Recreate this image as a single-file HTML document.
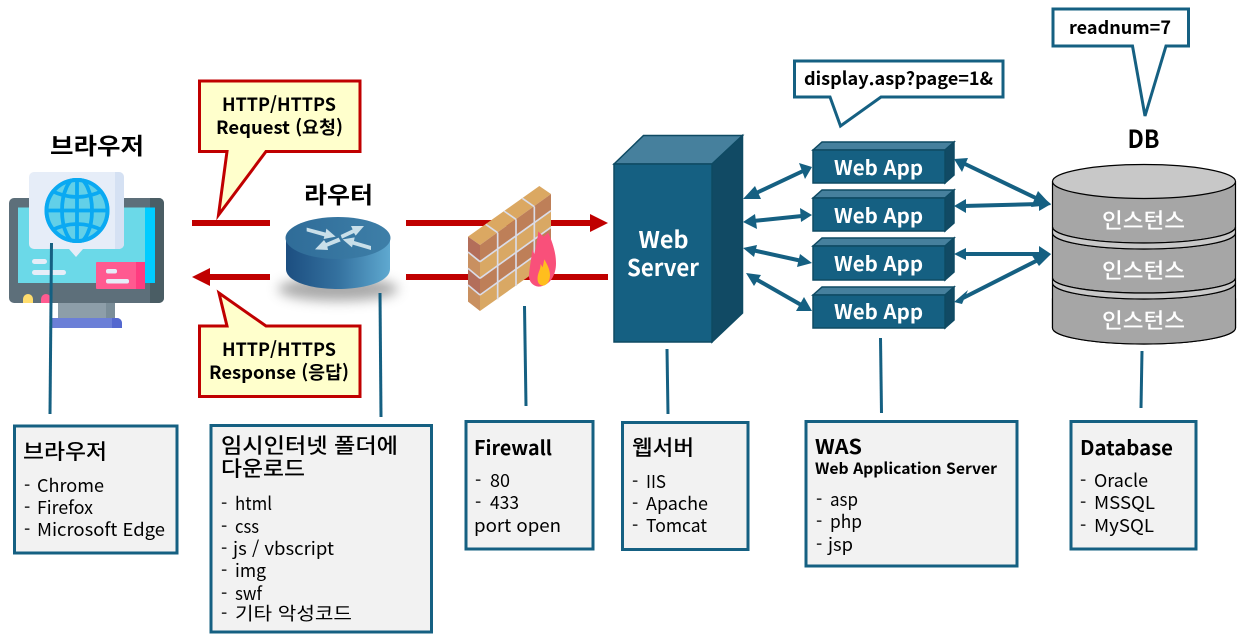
<!DOCTYPE html>
<html lang="ko"><head><meta charset="utf-8"><title>Web architecture</title>
<style>
html,body{margin:0;padding:0;background:#fff;width:1249px;height:642px;overflow:hidden}
svg{display:block}
text{font-family:"Noto Sans CJK KR","Liberation Sans",sans-serif;fill:#000}
.b{font-weight:700}
.m{font-weight:500}
.w{fill:#fff}
.t{font-size:18px;font-weight:400}
</style></head><body>
<svg width="1249" height="642" viewBox="0 0 1249 642" xmlns="http://www.w3.org/2000/svg">
<defs>
<linearGradient id="rs" x1="0" x2="1" y1="0" y2="0"><stop offset="0" stop-color="#1C4E80"/><stop offset=".5" stop-color="#34719F"/><stop offset="1" stop-color="#5FA9D0"/></linearGradient>
<linearGradient id="rt" x1="0" x2="1" y1="0" y2="0"><stop offset="0" stop-color="#2F6C98"/><stop offset="1" stop-color="#3E7FA8"/></linearGradient>
<filter id="bl" x="-30%" y="-80%" width="160%" height="260%"><feGaussianBlur stdDeviation="6"/></filter>
<clipPath id="gc"><circle cx="77" cy="210.500" r="32.500"/></clipPath>
</defs>

<!-- red lines -->
<g fill="#C00000">
<rect x="192" y="220" width="78" height="6"/>
<rect x="406" y="220" width="186" height="6"/>
<polygon points="590,214 608,223 590,232"/>
<rect x="208" y="274" width="62" height="6"/>
<polygon points="210,268 192,277 210,286"/>
<rect x="406" y="274" width="202" height="6"/>
</g>

<!-- monitor -->
<rect x="9" y="198" width="155" height="105" rx="5" fill="#5D6F7A"/>
<path d="M150 198h9a5 5 0 0 1 5 5v95a5 5 0 0 1-5 5h-9z" fill="#4A5D64"/>
<rect x="18" y="207.500" width="137" height="75.500" fill="#6BD9E8"/>
<rect x="145" y="207.500" width="10" height="75.500" fill="#00CCFF"/>
<rect x="32" y="259" width="15" height="5" rx="2.500" fill="#E6EDF8"/>
<rect x="32" y="270" width="34" height="5" rx="2.500" fill="#E6EDF8"/>
<rect x="96" y="262" width="49" height="27" rx="1" fill="#FF5A90"/>
<rect x="136" y="262" width="9" height="27" fill="#FF3C80"/>
<rect x="106" y="269" width="11" height="4.500" rx="2" fill="#E6EDF8"/>
<rect x="106" y="279" width="23" height="4.500" rx="2" fill="#E6EDF8"/>
<path d="M23 303v-4a5 5 0 0 1 10 0v4z" fill="#FFDD6E"/>
<path d="M41 303v-4a5 5 0 0 1 10 0v4z" fill="#FF5A90"/>
<rect x="58" y="303" width="57" height="15" fill="#8D9EA9"/>
<rect x="106" y="303" width="9" height="15" fill="#7A8D98"/>
<path d="M52 318h65a5 5 0 0 1 5 5v5h-70z" fill="#6B7FD7"/>
<path d="M112 318h5a5 5 0 0 1 5 5v5h-10z" fill="#5468CF"/>
<rect x="29" y="172" width="95" height="77" rx="5" fill="#E6EDF8"/>
<path d="M115 172h4a5 5 0 0 1 5 5v67a5 5 0 0 1-5 5h-4z" fill="#D5E1F3"/>
<polygon points="69,249 83,249 76,257" fill="#E6EDF8"/>
<circle cx="77" cy="210.500" r="32.500" fill="#62D0E8"/>
<g clip-path="url(#gc)" fill="none" stroke="#0AA9F2" stroke-width="3.800">
<ellipse cx="77" cy="210.500" rx="15" ry="32.500"/>
<line x1="77" y1="178" x2="77" y2="243"/>
<line x1="44" y1="210.500" x2="110" y2="210.500"/>
<path d="M50 190q27 14 54 0"/>
<path d="M50 231q27-14 54 0"/>
</g>
<circle cx="77" cy="210.500" r="30.500" fill="none" stroke="#0AA9F2" stroke-width="4"/>

<!-- router -->
<ellipse cx="338" cy="289" rx="60" ry="12" fill="#555" opacity=".5" filter="url(#bl)"/>
<path d="M286 238v31c0 12 23 20 52 20s52-8 52-20v-31z" fill="url(#rs)"/>
<ellipse cx="338" cy="238" rx="52.500" ry="21" fill="url(#rt)"/>
<g transform="translate(270 210) scale(.33333)" fill="#C9DFE9">
<polygon points="110,53 167,68 169,56 197,80 161,87 163,79 110,64"/>
<polygon points="303,108 252,93 254,82 218,88 246,112 248,104 303,120"/>
<polygon points="212,75 248,58 243,48 282,48 257,77 252,69 216,86"/>
<polygon points="206,83 168,99 162,90 135,118 174,120 172,110 212,94"/>
</g>

<!-- firewall -->
<g transform="translate(420 120) scale(.33333)">
<polygon points="144,350 358,198 393,222 180,375" fill="#DBA862"/>
<polygon points="144,350 180,375 180,425 144,396" fill="#B36E5A"/>
<polygon points="144,396 180,425 180,475 144,445" fill="#C99060"/>
<polygon points="144,445 180,475 180,525 144,495" fill="#B36E5A"/>
<polygon points="144,495 180,525 180,573 144,545" fill="#C99060"/>
<polygon points="180,375 393,222 393,272 180,425" fill="#BE7F58"/>
<polygon points="180,425 393,272 393,322 180,475" fill="#D9A864"/>
<polygon points="180,475 393,322 393,372 180,525" fill="#BE7F58"/>
<polygon points="180,525 393,372 393,422 180,573" fill="#D9A864"/>
<g stroke="#DADCE8" stroke-width="5" fill="none">
<line x1="144" y1="396" x2="180" y2="425"/><line x1="144" y1="445" x2="180" y2="475"/><line x1="144" y1="495" x2="180" y2="525"/>
<line x1="180" y1="425" x2="393" y2="272"/><line x1="180" y1="475" x2="393" y2="322"/><line x1="180" y1="525" x2="393" y2="372"/>
<line x1="233" y1="338" x2="233" y2="538"/><line x1="288" y1="298" x2="288" y2="498"/><line x1="343" y1="260" x2="343" y2="460"/>
<line x1="197" y1="313" x2="233" y2="338"/><line x1="252" y1="273" x2="288" y2="298"/><line x1="307" y1="235" x2="343" y2="260"/>
</g>
<path d="M355 500C338 498 326 485 327 465C328 445 333 425 337 388L343 402C347 385 352 360 355 334L370 350L385 338C396 365 408 395 408 430C408 465 390 498 355 500Z" fill="#F9507A"/>
<path d="M370 497C356 497 351 485 353 470C355 455 362 448 362 432L368 442L373 418C380 430 390 448 390 465C390 482 382 495 370 497Z" fill="#FFBE1E"/>
</g>

<!-- web server -->
<polygon points="614,164 643.500,135.500 742.500,135.500 712,164" fill="#46809D" stroke="#0E4A63" stroke-width="1.500"/>
<polygon points="712,164 742.500,135.500 742.500,313 712,342" fill="#114A64" stroke="#0E4A63" stroke-width="1.500"/>
<rect x="614" y="164" width="98" height="178" fill="#156082" stroke="#0E4A63" stroke-width="1.500"/>
<text x="663.500" y="248" text-anchor="middle" class="b w" font-size="23" textLength="50" lengthAdjust="spacingAndGlyphs">Web</text>
<text x="663" y="276" text-anchor="middle" class="b w" font-size="23" textLength="72" lengthAdjust="spacingAndGlyphs">Server</text>

<!-- web apps -->
<g stroke="#0E4A63" stroke-width="1.500">
<g><polygon points="813,150 822,142 954,142 945,150" fill="#46809D"/><polygon points="945,150 954,142 954,175 945,183" fill="#114A64"/><rect x="813" y="150" width="132" height="33" fill="#156082"/></g>
<g><polygon points="813,198 822,190 954,190 945,198" fill="#46809D"/><polygon points="945,198 954,190 954,223 945,231" fill="#114A64"/><rect x="813" y="198" width="132" height="33" fill="#156082"/></g>
<g><polygon points="813,246 822,238 954,238 945,246" fill="#46809D"/><polygon points="945,246 954,238 954,272 945,280" fill="#114A64"/><rect x="813" y="246" width="132" height="34" fill="#156082"/></g>
<g><polygon points="813,295 822,287 954,287 945,295" fill="#46809D"/><polygon points="945,295 954,287 954,320 945,328" fill="#114A64"/><rect x="813" y="295" width="132" height="33" fill="#156082"/></g>
</g>
<text x="878.500" y="175" text-anchor="middle" class="b w" font-size="20" textLength="89" lengthAdjust="spacingAndGlyphs">Web App</text>
<text x="878.500" y="223" text-anchor="middle" class="b w" font-size="20" textLength="89" lengthAdjust="spacingAndGlyphs">Web App</text>
<text x="878.500" y="271" text-anchor="middle" class="b w" font-size="20" textLength="89" lengthAdjust="spacingAndGlyphs">Web App</text>
<text x="878.500" y="319" text-anchor="middle" class="b w" font-size="20" textLength="89" lengthAdjust="spacingAndGlyphs">Web App</text>

<!-- bidirectional arrows -->
<g stroke="#156082" stroke-width="4" fill="none">
<line x1="752" y1="195" x2="803" y2="171"/>
<line x1="753" y1="221" x2="802" y2="216"/>
<line x1="752" y1="250" x2="802" y2="261"/>
<line x1="754" y1="278" x2="803" y2="306"/>
<line x1="963" y1="163" x2="1042" y2="201"/>
<line x1="963" y1="206" x2="1040" y2="204"/>
<line x1="963" y1="254" x2="1040" y2="254"/>
<line x1="963" y1="298" x2="1042" y2="258"/>
</g>
<g fill="#156082">
<polygon points="743,199 755,186 761,199"/><polygon points="812,167 799,163 805,179"/>
<polygon points="743,222 755,214 757,229"/><polygon points="812,215 800,208 801,222"/>
<polygon points="743,248 757,245 754,257"/><polygon points="812,263 800,254 797,267"/>
<polygon points="746,273 761,275 754,286"/><polygon points="812,311 804,297 796,311"/>
<polygon points="954,159 968,158 962,172"/><polygon points="1051,205 1038,191 1031,207"/>
<polygon points="954,206 966,199 966,213"/><polygon points="1051,204 1039,194 1039,211"/>
<polygon points="954,254 966,248 966,260"/><polygon points="1051,254 1039,246 1039,265"/>
<polygon points="954,302 968,290 962,304"/><polygon points="1051,254 1031,254 1039,266"/>
</g>

<!-- database -->
<g stroke="#000" stroke-width="1.200">
<path d="M1052.500 182v45a91.500 16 0 0 0 183 0v-45z" fill="#A6A6A6"/>
<ellipse cx="1144" cy="181.500" rx="91.500" ry="17" fill="#C8C8C8"/>
<path d="M1052.500 299v29a91.500 16 0 0 0 183 0v-29z" fill="#A6A6A6"/>
<path d="M1052.500 283v45a91.500 16 0 0 0 183 0v-45a91.500 16 0 0 1-183 0z" fill="#A6A6A6"/>
<path d="M1052.500 233v45a91.500 15 0 0 0 183 0v-45a91.500 16 0 0 1-183 0z" fill="#A6A6A6"/>
<path d="M1052.500 283v-5a91.500 15 0 0 0 183 0v5a91.500 16 0 0 1-183 0z" fill="#C8C8C8"/>
<path d="M1052.500 233v-6a91.500 16 0 0 0 183 0v6a91.500 16 0 0 1-183 0z" fill="#C8C8C8"/>
</g>
<text x="1143.500" y="228" text-anchor="middle" class="m w" font-size="21" textLength="83" lengthAdjust="spacingAndGlyphs">인스턴스</text>
<text x="1143.500" y="278" text-anchor="middle" class="m w" font-size="21" textLength="83" lengthAdjust="spacingAndGlyphs">인스턴스</text>
<text x="1143.500" y="328" text-anchor="middle" class="m w" font-size="21" textLength="83" lengthAdjust="spacingAndGlyphs">인스턴스</text>

<!-- callouts -->
<g fill="#FFFFCC" stroke="#C00000" stroke-width="3">
<polygon points="199.500,81 360,81 360,151.500 266,151.500 218.500,215 227,151.500 199.500,151.500"/>
<polygon points="199.500,326 227,326 219,293 266,326 360,326 360,396.500 199.500,396.500"/>
</g>
<g fill="#fff" stroke="#156082" stroke-width="3">
<polygon points="794.500,61 1003,61 1003,97 881,97 840.500,126 830,97 794.500,97"/>
<polygon points="1053,9 1188.500,9 1188.500,46 1166,46 1145,116 1132.500,46 1053,46"/>
</g>
<text x="279" y="111" text-anchor="middle" class="b" font-size="18" textLength="114" lengthAdjust="spacingAndGlyphs">HTTP/HTTPS</text>
<text x="279.500" y="134" text-anchor="middle" class="b" font-size="18" textLength="127" lengthAdjust="spacingAndGlyphs">Request (요청)</text>
<text x="279" y="356" text-anchor="middle" class="b" font-size="18" textLength="114" lengthAdjust="spacingAndGlyphs">HTTP/HTTPS</text>
<text x="279" y="379" text-anchor="middle" class="b" font-size="18" textLength="140" lengthAdjust="spacingAndGlyphs">Response (응답)</text>
<text x="804" y="85" class="b" font-size="18" textLength="189" lengthAdjust="spacingAndGlyphs">display.asp?page=1&amp;</text>
<text x="1069" y="34" class="b" font-size="18" textLength="102" lengthAdjust="spacingAndGlyphs">readnum=7</text>
<text x="97" y="154" text-anchor="middle" class="b" font-size="23" textLength="94" lengthAdjust="spacingAndGlyphs">브라우저</text>
<text x="338.500" y="203" text-anchor="middle" class="b" font-size="23" textLength="69" lengthAdjust="spacingAndGlyphs">라우터</text>
<text x="1143.500" y="148" text-anchor="middle" class="b" font-size="25" textLength="32" lengthAdjust="spacingAndGlyphs">DB</text>

<!-- leader lines -->
<g stroke="#156082" stroke-width="3" fill="none">
<line x1="51.500" y1="243" x2="50" y2="414"/>
<line x1="380" y1="293" x2="381" y2="417"/>
<line x1="524.500" y1="306" x2="526" y2="406"/>
<line x1="667" y1="349" x2="668" y2="414"/>
<line x1="880.500" y1="338" x2="881.500" y2="413"/>
<line x1="1142" y1="351" x2="1141" y2="408"/>
</g>

<!-- info boxes -->
<g fill="#F2F2F2" stroke="#156082" stroke-width="3">
<rect x="14.500" y="426" width="162.500" height="127"/>
<rect x="211" y="425.500" width="220.500" height="206.500"/>
<rect x="466" y="421.500" width="127" height="127.500"/>
<rect x="622.500" y="422.500" width="125.500" height="127"/>
<rect x="806" y="421.500" width="211" height="144.500"/>
<rect x="1071" y="421.500" width="125" height="127.500"/>
</g>

<text x="23" y="459" class="m" font-size="21" textLength="84" lengthAdjust="spacingAndGlyphs">브라우저</text>
<text x="24" y="492" class="t">-</text><text x="37" y="492" class="t" textLength="67" lengthAdjust="spacingAndGlyphs">Chrome</text>
<text x="24" y="514" class="t">-</text><text x="37" y="514" class="t" textLength="56" lengthAdjust="spacingAndGlyphs">Firefox</text>
<text x="24" y="536" class="t">-</text><text x="37" y="536" class="t" textLength="128" lengthAdjust="spacingAndGlyphs">Microsoft Edge</text>

<text x="221" y="453" class="m" font-size="21" textLength="177" lengthAdjust="spacingAndGlyphs">임시인터넷 폴더에</text>
<text x="221" y="476" class="m" font-size="21" textLength="84" lengthAdjust="spacingAndGlyphs">다운로드</text>
<text x="221" y="510" class="t">-</text><text x="235" y="510" class="t" textLength="37" lengthAdjust="spacingAndGlyphs">html</text>
<text x="221" y="533" class="t">-</text><text x="235" y="533" class="t" textLength="24" lengthAdjust="spacingAndGlyphs">css</text>
<text x="221" y="555" class="t">-</text><text x="233" y="555" class="t" textLength="101" lengthAdjust="spacingAndGlyphs">js / vbscript</text>
<text x="221" y="577" class="t">-</text><text x="235" y="577" class="t" textLength="31" lengthAdjust="spacingAndGlyphs">img</text>
<text x="221" y="600" class="t">-</text><text x="235" y="600" class="t" textLength="27" lengthAdjust="spacingAndGlyphs">swf</text>
<text x="221" y="620" class="t">-</text><text x="235" y="620" class="t" textLength="117" lengthAdjust="spacingAndGlyphs">기타 악성코드</text>

<text x="474" y="455" class="b" font-size="20" textLength="78" lengthAdjust="spacingAndGlyphs">Firewall</text>
<text x="475" y="487" class="t">-</text><text x="490" y="487" class="t" textLength="20" lengthAdjust="spacingAndGlyphs">80</text>
<text x="475" y="509" class="t">-</text><text x="490" y="509" class="t" textLength="29" lengthAdjust="spacingAndGlyphs">433</text>
<text x="474" y="532" class="t" textLength="87" lengthAdjust="spacingAndGlyphs">port open</text>

<text x="632" y="455" class="m" font-size="21" textLength="62" lengthAdjust="spacingAndGlyphs">웹서버</text>
<text x="632" y="488" class="t">-</text><text x="646" y="488" class="t" textLength="20" lengthAdjust="spacingAndGlyphs">IIS</text>
<text x="632" y="510" class="t">-</text><text x="646" y="510" class="t" textLength="62" lengthAdjust="spacingAndGlyphs">Apache</text>
<text x="632" y="532" class="t">-</text><text x="646" y="532" class="t" textLength="61" lengthAdjust="spacingAndGlyphs">Tomcat</text>

<text x="815" y="454" class="b" font-size="20" textLength="47" lengthAdjust="spacingAndGlyphs">WAS</text>
<text x="815" y="474" class="b" font-size="15.500" textLength="182" lengthAdjust="spacingAndGlyphs">Web Application Server</text>
<text x="816" y="506" class="t">-</text><text x="830" y="506" class="t" textLength="28" lengthAdjust="spacingAndGlyphs">asp</text>
<text x="816" y="528" class="t">-</text><text x="830" y="528" class="t" textLength="32" lengthAdjust="spacingAndGlyphs">php</text>
<text x="816" y="551" class="t">-</text><text x="828" y="551" class="t" textLength="25" lengthAdjust="spacingAndGlyphs">jsp</text>

<text x="1080" y="455" class="b" font-size="20" textLength="93" lengthAdjust="spacingAndGlyphs">Database</text>
<text x="1080" y="487" class="t">-</text><text x="1094" y="487" class="t" textLength="54" lengthAdjust="spacingAndGlyphs">Oracle</text>
<text x="1080" y="509" class="t">-</text><text x="1094" y="509" class="t" textLength="61" lengthAdjust="spacingAndGlyphs">MSSQL</text>
<text x="1080" y="532" class="t">-</text><text x="1094" y="532" class="t" textLength="60" lengthAdjust="spacingAndGlyphs">MySQL</text>
</svg>
</body></html>
